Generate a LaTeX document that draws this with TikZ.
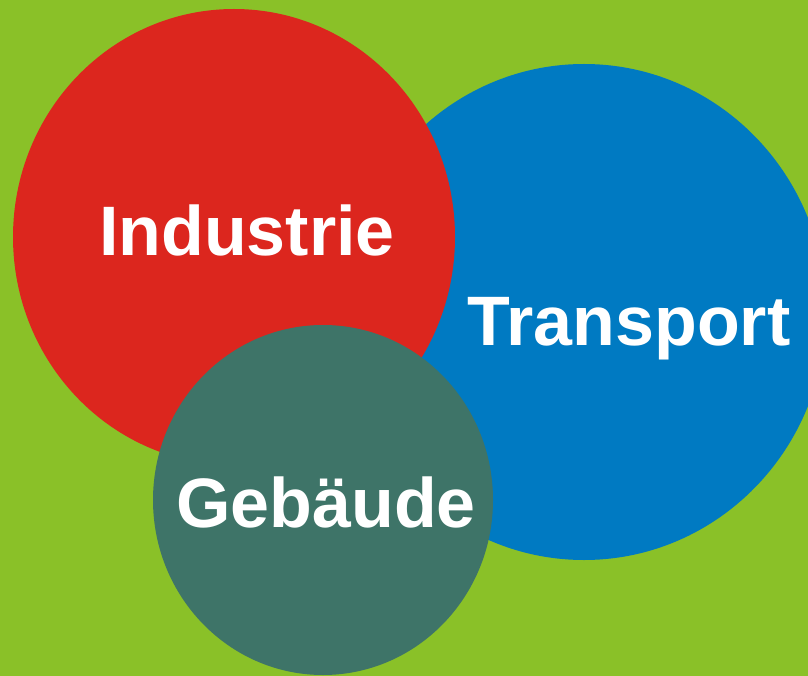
\documentclass[tikz,border=0pt]{standalone}
\usepackage{fontspec}
\setmainfont{Liberation Sans}
\definecolor{bggreen}{RGB}{138,193,40}
\definecolor{cred}{RGB}{220,38,30}
\definecolor{cblue}{RGB}{0,122,194}
\definecolor{cteal}{RGB}{62,116,104}
\tikzset{
  lbl/.style={text=white, font=\bfseries\fontsize{70}{84}\selectfont, anchor=base, inner sep=0pt},
  blob/.style={draw=none}
}
\begin{document}
\begin{tikzpicture}[x=1pt,y=-1pt]
\useasboundingbox (0,0) rectangle (808,676);
\clip (0,0) rectangle (808,676);
\fill[bggreen] (0,0) rectangle (808,676);
\fill[cblue, blob] (584,312) ellipse [x radius=242, y radius=248];
\fill[cred, blob] (234,237) ellipse [x radius=221, y radius=228];
\fill[cteal, blob] (323,500) ellipse [x radius=170, y radius=175];
\node[lbl] (industrie) at (247,255) {Industrie};
\node[lbl] (transport) at (629,345) {Transport};
\node[lbl] (gebaeude) at (326,527) {Gebäude};
\end{tikzpicture}
\end{document}
